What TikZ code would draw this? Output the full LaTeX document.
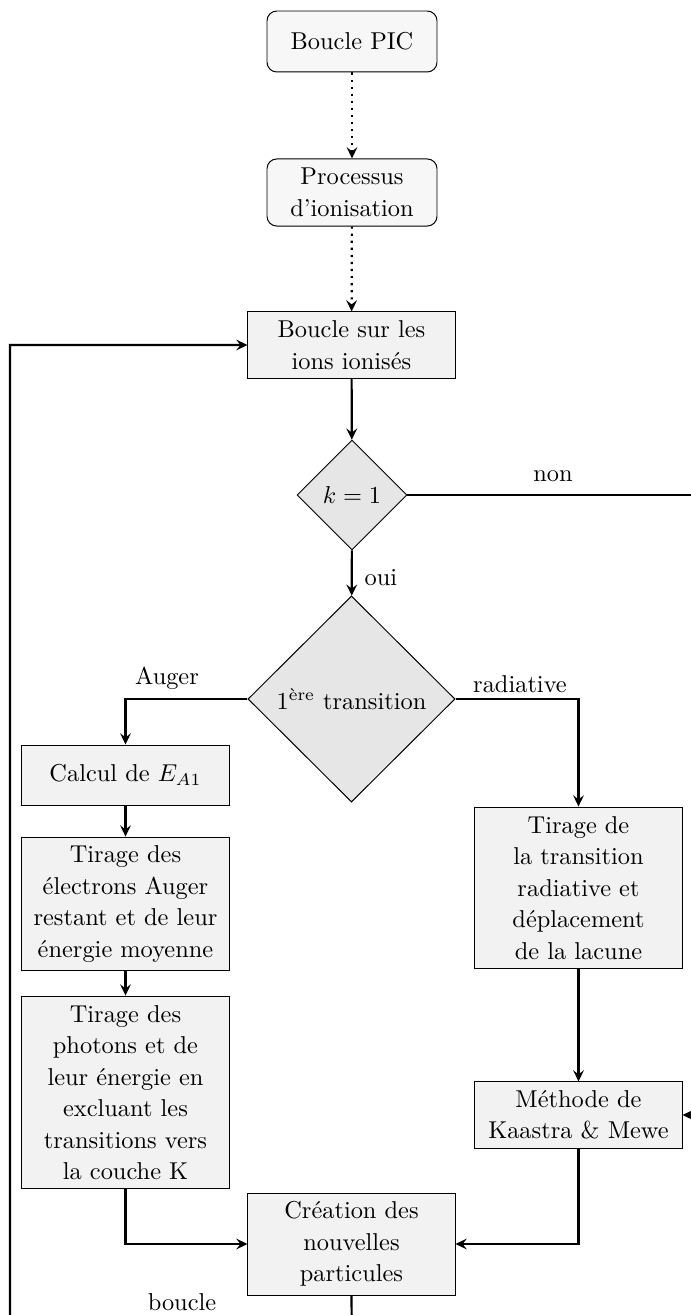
\documentclass[tikz,border=0pt]{standalone}
\usepackage{amsmath}
\usetikzlibrary{shapes.geometric,arrows.meta}
\definecolor{boxfill}{HTML}{F2F2F2}
\definecolor{roundfill}{HTML}{F7F7F7}
\definecolor{diafill}{HTML}{E6E6E6}
\tikzset{
  txt/.style={font=\fontsize{10}{12.9}\selectfont, align=center},
  stepbox/.style={txt, draw, fill=boxfill, inner sep=0pt, minimum width=84.9pt},
  roundbox/.style={txt, draw, fill=roundfill, rounded corners=4pt, inner sep=0pt, minimum width=69.7pt},
  decision/.style={txt, draw, fill=diafill, diamond, aspect=1, inner sep=0pt},
  tip/.style={-{Stealth[length=4.6pt,width=4.4pt,inset=1.7pt]}},
  conn/.style={line width=0.9pt, tip},
  dotconn/.style={line width=0.9pt, dotted, tip},
  lbl/.style={font=\fontsize{10}{12}\selectfont, inner sep=0pt},
}
\begin{document}
\begin{tikzpicture}[x=0.41pt, y=-0.41pt]
\useasboundingbox (0,0) rectangle (691,1315);
\clip (0,0) rectangle (691,1315);

\node[roundbox, minimum height=25.0pt] (pic) at (352,41.5) {Boucle PIC};
\node[roundbox, minimum height=27.5pt] (proc) at (352,192.5) {Processus\\d'ionisation};
\node[stepbox, minimum height=27.1pt] (loop) at (351.5,345) {Boucle sur les\\ions ionisés};
\node[decision, minimum width=45.1pt, minimum height=45.1pt] (k1) at (352,495) {$k=1$};
\node[decision, minimum width=84.9pt, minimum height=84.5pt] (trans) at (351.5,699) {$1^{\text{ère}}$ transition};
\node[stepbox, minimum height=24.6pt] (calc) at (125.5,775) {Calcul de $E_{A1}$};
\node[stepbox, minimum height=54.9pt] (auger) at (125.5,904) {Tirage des\\électrons Auger\\restant et de leur\\énergie moyenne};
\node[stepbox, minimum height=79.1pt] (phot) at (125.5,1092.5) {Tirage des\\photons et de\\leur énergie en\\excluant les\\transitions vers\\la couche K};
\node[stepbox, minimum height=66.4pt] (rad) at (578.5,888) {Tirage de\\la transition\\radiative et\\déplacement\\de la lacune};
\node[stepbox, minimum height=27.1pt] (kaas) at (578.5,1115) {Méthode de\\Kaastra \& Mewe};
\node[stepbox, minimum height=41.8pt] (crea) at (351.5,1244) {Création des\\nouvelles\\particules};

\node[lbl] (lnon) at (553,476) {non};
\node[lbl] (loui) at (381,578) {oui};
\node[lbl] (lauger) at (167,678) {Auger};
\node[lbl] (lrad) at (520,684) {radiative};
\node[lbl] (lboucle) at (182,1302) {boucle};

\coordinate (farright) at (740,495);
\coordinate (bottom) at (352,1360);
\coordinate (farleft) at (10,1300);

\draw[dotconn] (pic) -- (proc);
\draw[dotconn] (proc) -- (loop);
\draw[conn] (loop) -- (k1);
\draw[conn] (k1) -- (trans);
\draw[conn] (trans.west) -| (calc.north);
\draw[conn] (trans.east) -| (rad.north);
\draw[conn] (calc) -- (auger);
\draw[conn] (auger) -- (phot);
\draw[conn] (rad) -- (kaas);
\draw[conn] (phot.south) |- (crea.west);
\draw[conn] (kaas.south) |- (crea.east);
\draw[conn] (k1.east) -- (farright) |- (kaas.east);
\draw[conn] (crea.south) -- (bottom) -| (farleft) |- (loop.west);
\end{tikzpicture}
\end{document}
